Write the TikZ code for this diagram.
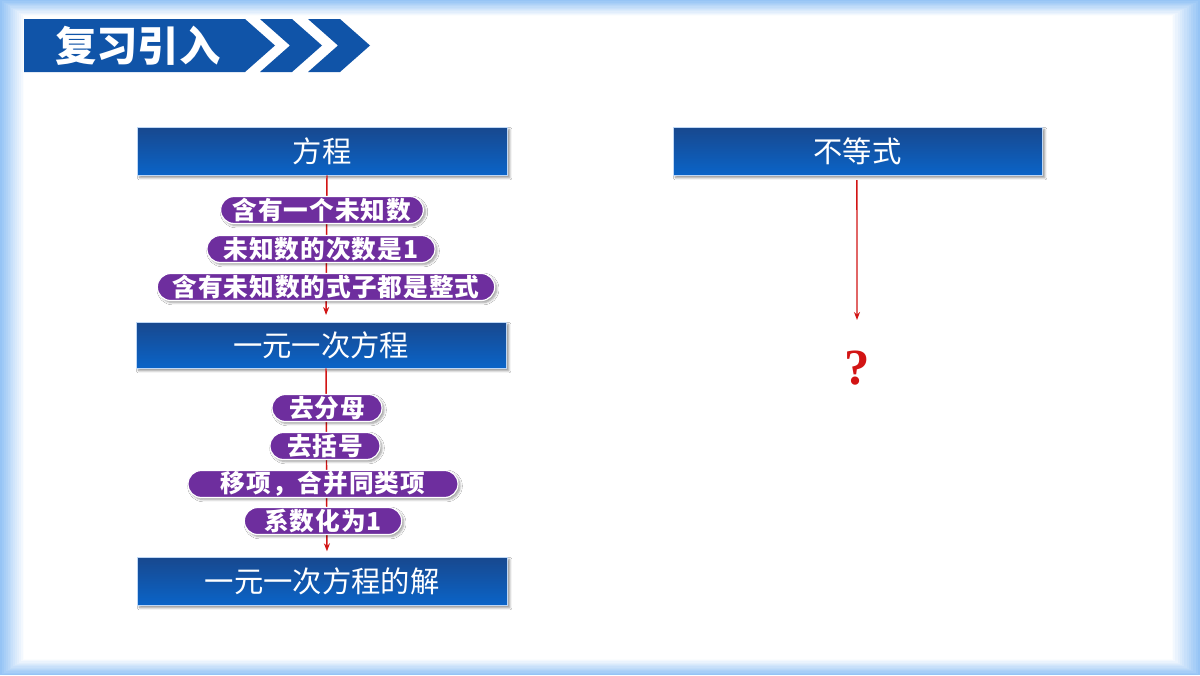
\documentclass[tikz,border=0pt]{standalone}
\usepackage{fontspec}
\newfontfamily\cjk{Noto Sans CJK SC}
\newfontfamily\qfont{Liberation Serif}
\usetikzlibrary{shadows,shadows.blur,arrows.meta}
\definecolor{frameblue}{RGB}{150,196,245}
\definecolor{titleblue}{RGB}{16,84,168}
\definecolor{boxtop}{RGB}{24,72,142}
\definecolor{boxbot}{RGB}{10,100,200}
\definecolor{boxedge}{RGB}{190,215,245}
\definecolor{pillpurple}{RGB}{110,46,158}
\definecolor{arrred}{RGB}{210,20,20}
\tikzset{
  bluebox/.style={rectangle, minimum width=277.5pt, minimum height=36pt, inner sep=0pt,
    top color=boxtop, bottom color=boxbot, draw=boxedge, line width=0.5pt,
    text=white, font=\cjk\fontsize{22pt}{24pt}\selectfont,
    blur shadow={shadow xshift=2pt, shadow yshift=-2pt, shadow blur steps=6, shadow opacity=45}},
  pill/.style={rectangle, rounded corners=10pt, minimum height=20.25pt, inner sep=0pt,
    fill=pillpurple, draw=white, line width=0.9pt,
    text=white, font=\cjk\bfseries\fontsize{18.5pt}{20pt}\selectfont\addfontfeature{LetterSpace=4},
    blur shadow={shadow xshift=1.5pt, shadow yshift=-1.5pt, shadow blur steps=5, shadow opacity=40}},
  arr/.style={draw=arrred, line width=1.1pt, -{Stealth[length=6pt,width=4.5pt]}},
  titletext/.style={text=white, font=\cjk\bfseries\fontsize{31pt}{34pt}\selectfont, inner sep=0pt},
  qmark/.style={text=arrred, font=\qfont\bfseries\fontsize{38pt}{40pt}\selectfont, inner sep=0pt}
}
\begin{document}
\begin{tikzpicture}[x=0.75pt,y=-0.75pt]
\useasboundingbox (0,0) rectangle (1200,675);
% frame
\fill[frameblue] (0,0) rectangle (1200,675);
\foreach \i in {1,...,12}{
  \pgfmathtruncatemacro{\pct}{100-8*\i}
  \fill[frameblue!\pct!white] (\i*1.9,\i*1.25) rectangle (1200-\i*2.25,675-\i*1.25);
}
\fill[white] (24,16) rectangle (1172,659);
% title banner
\fill[titleblue] (24,19) -- (245,19) -- (275,45.5) -- (245,72) -- (24,72) -- cycle;
\fill[titleblue] (260,19) -- (292,19) -- (322,45.5) -- (292,72) -- (260,72) -- (290,45.5) -- cycle;
\fill[titleblue] (308,19) -- (340,19) -- (370,45.5) -- (340,72) -- (308,72) -- (338,45.5) -- cycle;
\node[titletext] (tt) at (138,45.5) {复习引入};
% blue boxes
\node[bluebox] (fc) at (322,151) {方程};
\node[bluebox, minimum height=34.5pt] (yy) at (321,345) {一元一次方程};
\node[bluebox] (jie) at (322,581) {一元一次方程的解};
\node[bluebox, minimum width=276.75pt] (bd) at (857.5,151) {不等式};
\node[qmark] (qm) at (857,368) {?};
\coordinate (bdend) at (857,320);
% arrows (behind the pills)
\draw[arr, shorten >=5pt] ([xshift=3.75pt]fc.south) -- ([xshift=3.75pt]yy.north);
\draw[arr, shorten >=4pt] ([xshift=3.75pt]yy.south) -- ([xshift=3.75pt]jie.north);
\draw[arr, shorten <=3.5pt] ([xshift=-0.4pt]bd.south) -- (bdend);
% pills
\node[pill, minimum width=152pt] (p1) at (322,210) {含有一个未知数};
\node[pill, minimum width=171pt] (p2) at (321,249) {未知数的次数是1};
\node[pill, minimum width=253pt] (p3) at (326,287) {含有未知数的式子都是整式};
\node[pill, minimum width=82.5pt] (q1) at (327,408) {去分母};
\node[pill, minimum width=82.5pt] (q2) at (325,446) {去括号};
\node[pill, minimum width=202.5pt] (q3) at (323,484) {移项，合并同类项};
\node[pill, minimum width=118pt] (q4) at (323,521) {系数化为1};
\end{tikzpicture}
\end{document}
